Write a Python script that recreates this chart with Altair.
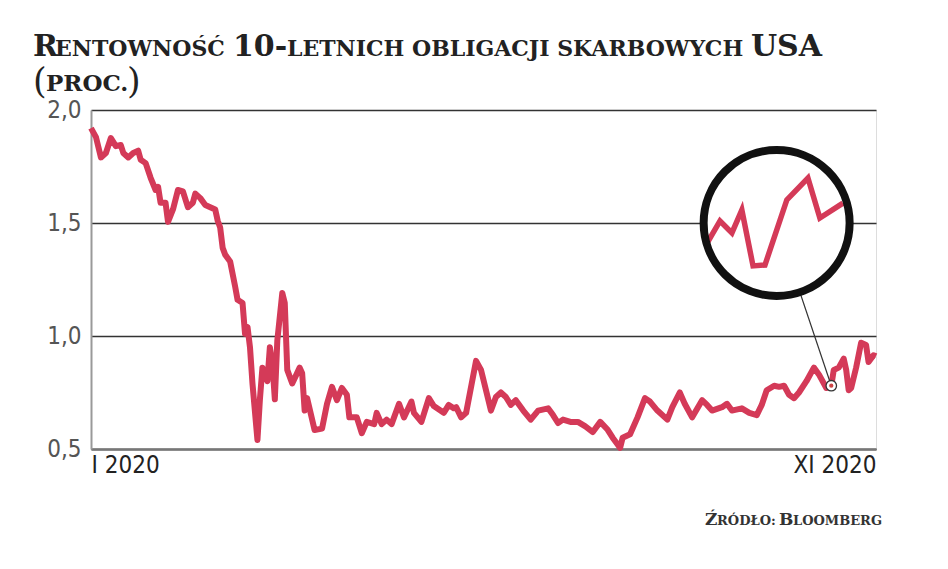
import altair as alt
import pandas as pd

# --- data (day offset from 2 Jan 2020, yield in %) ---
days = [0, 2, 4, 6, 8, 10, 12, 13, 15, 17, 19, 20, 22, 24, 26, 27, 28, 30, 31, 33,
        35, 37, 39, 41, 42, 44, 46, 48, 50, 51, 52, 53, 54, 56, 58, 59, 61, 62, 63, 64,
        65, 67, 68, 69, 71, 72, 73, 74, 75, 77, 78, 79, 81, 84, 85, 86, 87, 90, 93, 95,
        97, 99, 101, 103, 104, 107, 109, 111, 114, 115, 117, 119, 121, 124, 126, 129, 130, 133, 136, 138,
        142, 144, 146, 147, 149, 151, 153, 155, 157, 161, 163, 165, 167, 169, 171, 174, 177, 180, 184, 186,
        188, 190, 193, 196, 199, 202, 205, 208, 210, 212, 213, 214, 217, 220, 223, 225, 228, 229, 232, 234,
        237, 239, 242, 246, 248, 250, 254, 256, 258, 262, 265, 268, 270, 272, 275, 277, 279, 281, 283, 285,
        288, 291, 293, 296, 298, 299, 301, 303, 304, 305, 306, 308, 310, 312, 313, 315, 316]
yields = [1.92, 1.88, 1.79, 1.81, 1.876, 1.84, 1.845, 1.81, 1.79, 1.81, 1.82, 1.78, 1.765, 1.70, 1.646, 1.66, 1.59, 1.59, 1.505, 1.56,
          1.646, 1.64, 1.57, 1.59, 1.63, 1.61, 1.58, 1.57, 1.56, 1.51, 1.48, 1.39, 1.36, 1.33, 1.22, 1.16, 1.146, 1.01, 1.04, 0.95,
          0.79, 0.54, 0.72, 0.86, 0.80, 0.95, 0.88, 0.72, 0.98, 1.19, 1.146, 0.85, 0.79, 0.86, 0.835, 0.67, 0.725, 0.584, 0.59, 0.70,
          0.775, 0.716, 0.77, 0.74, 0.64, 0.64, 0.57, 0.62, 0.61, 0.66, 0.61, 0.63, 0.61, 0.70, 0.64, 0.71, 0.66, 0.62, 0.725, 0.69,
          0.66, 0.695, 0.68, 0.685, 0.64, 0.66, 0.775, 0.89, 0.85, 0.67, 0.73, 0.75, 0.73, 0.695, 0.716, 0.67, 0.63, 0.67, 0.68, 0.65,
          0.615, 0.63, 0.62, 0.62, 0.60, 0.575, 0.62, 0.585, 0.55, 0.52, 0.505, 0.55, 0.565, 0.64, 0.725, 0.71, 0.67, 0.66, 0.63, 0.685,
          0.75, 0.70, 0.64, 0.716, 0.695, 0.67, 0.685, 0.70, 0.67, 0.68, 0.66, 0.65, 0.695, 0.76, 0.78, 0.775, 0.78, 0.74, 0.725, 0.75,
          0.80, 0.86, 0.83, 0.77, 0.78, 0.85, 0.86, 0.90, 0.85, 0.76, 0.77, 0.86, 0.97, 0.96, 0.885, 0.915, 0.91]

# magnified inset ("lens"), drawn in the chart's own coordinates
inset_days = [248.3, 253.2, 258.0, 262.0, 266.5, 271.3, 280.1, 288.6, 293.4, 302.7]
inset_yields = [1.416, 1.509, 1.456, 1.558, 1.31, 1.314, 1.602, 1.699, 1.522, 1.588]

lens_day, lens_yield = 276, 1.5
marker_day, marker_yield = 298, 0.78

y_ticks = [0.5, 1.0, 1.5, 2.0]
x_ticks = [0, 316]
x_tick_labels = ["I 2020", "XI 2020"]

RED = "#d43a58"
LABEL_FONT = "Liberation Sans Narrow, DejaVu Sans Condensed, Roboto"
TITLE_FONT = "DejaVu Serif"

df = pd.DataFrame({"day": days, "yield": yields})
inset_df = pd.DataFrame({"day": inset_days, "yield": inset_yields})
lens_df = pd.DataFrame({"day": [lens_day], "yield": [lens_yield]})
marker_df = pd.DataFrame({"day": [marker_day], "yield": [marker_yield]})
connector_df = pd.DataFrame({"day": [marker_day], "yield": [marker_yield],
                             "day2": [lens_day], "yield2": [lens_yield]})

xscale = alt.Scale(domain=[x_ticks[0], x_ticks[-1]], nice=False, zero=False)
yscale = alt.Scale(domain=[y_ticks[0], y_ticks[-1]], nice=False, zero=False)

label_expr = "datum.value == 0 ? '%s' : '%s'" % (x_tick_labels[0], x_tick_labels[1])

x_enc = alt.X("day:Q", scale=xscale, title=None,
              axis=alt.Axis(values=x_ticks, labelExpr=label_expr, labelFlush=True,
                            grid=False, ticks=False, tickSize=0, domainColor="#777",
                            domainWidth=2.5, labelFont=LABEL_FONT, labelFontSize=24,
                            labelColor="#222", labelPadding=4, labelBaseline="top"))
y_enc = alt.Y("yield:Q", scale=yscale, title=None,
              axis=alt.Axis(values=y_ticks,
                            labelExpr="replace(format(datum.value, '.1f'), '.', ',')",
                            grid=True, gridColor="#333", gridWidth=1.3,
                            ticks=False, tickSize=0, domainColor="#999", domainWidth=2,
                            labelFont=LABEL_FONT, labelFontSize=24, labelColor="#555",
                            labelPadding=10))

line = alt.Chart(df).mark_line(color=RED, strokeWidth=6, strokeJoin="round").encode(x=x_enc, y=y_enc)

connector = alt.Chart(connector_df).mark_rule(color="#333", strokeWidth=1.2).encode(
    x="day:Q", y="yield:Q", x2="day2:Q", y2="yield2:Q")

lens_fill = alt.Chart(lens_df).mark_point(shape="circle", filled=True, color="white",
                                          opacity=1, size=21316).encode(x="day:Q", y="yield:Q")
inset_line = alt.Chart(inset_df).mark_line(color=RED, strokeWidth=5.5, strokeJoin="miter").encode(
    x="day:Q", y="yield:Q")
lens_ring = alt.Chart(lens_df).mark_point(shape="circle", filled=False, stroke="#111",
                                          strokeWidth=8, opacity=1, size=21316).encode(
    x="day:Q", y="yield:Q")

marker_ring = alt.Chart(marker_df).mark_point(shape="circle", filled=True, fill="white",
                                              stroke="#333", strokeWidth=1.3, opacity=1,
                                              size=110).encode(x="day:Q", y="yield:Q")
marker_dot = alt.Chart(marker_df).mark_point(shape="circle", filled=True, color="#c44",
                                             opacity=1, size=18).encode(x="day:Q", y="yield:Q")


def txt(text, x, y, size, font=TITLE_FONT, weight="bold", color="#222", align="left"):
    return alt.Chart(pd.DataFrame({"t": [text]})).mark_text(
        font=font, fontWeight=weight, fontSize=size, color=color, align=align,
        baseline="alphabetic").encode(text="t:N", x=alt.value(x), y=alt.value(y))


title_parts = [
    txt("R", -58, -54, 30),
    txt("ENTOWNOŚĆ", -36, -54, 22),
    txt("10-", 142, -54, 30),
    txt("LETNICH OBLIGACJI SKARBOWYCH", 196, -54, 22),
    txt("USA", 731, -54, 30, align="right"),
    txt("(", -58, -17, 35, weight="normal"),
    txt("PROC.", -45, -19, 23),
    txt(")", 36, -17, 35, weight="normal"),
]
source_parts = [
    txt("Ź", 614, 415, 17, color="#333"),
    txt("RÓDŁO:", 626, 415, 13, color="#333"),
    txt("B", 688, 415, 17, color="#333"),
    txt("LOOMBERG", 702, 415, 13, color="#333"),
]

chart = alt.layer(
    line, connector, lens_fill, inset_line, lens_ring, marker_ring, marker_dot,
    *title_parts, *source_parts
).properties(
    width=785, height=339,
    autosize=alt.AutoSizeParams(type="none"),
    padding={"left": 83, "top": 102, "right": 50, "bottom": 100},
).configure_view(stroke=None).configure(background="white")

chart.save("out.html", embed_options={"renderer": "svg", "actions": False})
